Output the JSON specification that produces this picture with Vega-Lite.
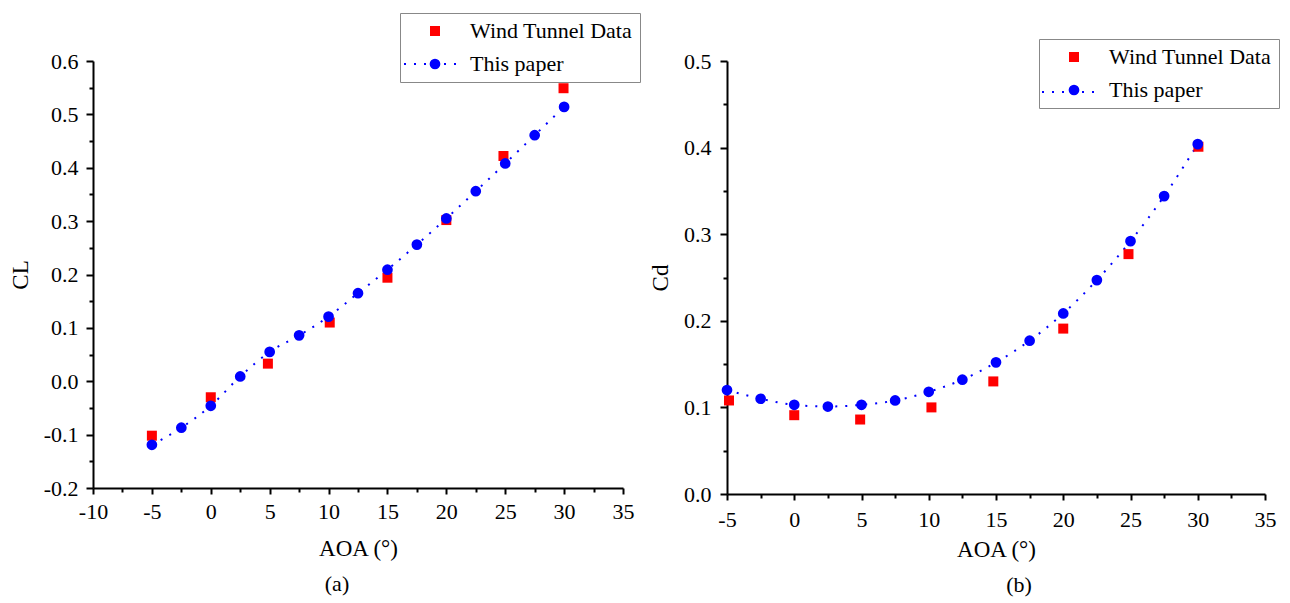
{
  "$schema": "https://vega.github.io/schema/vega-lite/v6.json",
  "padding": {"left": 9, "top": 12, "right": 5, "bottom": 5},
  "config": {
    "font": "Liberation Serif",
    "view": {"stroke": null},
    "axis": {"grid": false, "domainColor": "#000", "domainWidth": 2, "tickColor": "#000", "tickWidth": 2, "labelColor": "#000", "labelFont": "Liberation Serif", "labelFontSize": 22, "titleFont": "Liberation Serif", "titleFontSize": 23, "titleFontWeight": "normal", "titleColor": "#000", "labelFlush": false, "labelOverlap": false},
    "legend": {"labelFont": "Liberation Serif", "labelFontSize": 22, "labelColor": "#000", "labelLimit": 400, "strokeColor": "#888", "fillColor": "#fff", "padding": 7, "rowPadding": 11, "symbolOffset": 17, "labelOffset": 24, "symbolSize": 100, "symbolStrokeWidth": 0},
    "title": {"font": "Liberation Serif", "fontSize": 22, "fontWeight": "normal", "color": "#000"}
  },
  "datasets": {
    "cl": [
      {"aoa": -5, "value": -0.102, "series": "Wind Tunnel Data"},
      {"aoa": 0, "value": -0.030, "series": "Wind Tunnel Data"},
      {"aoa": 4.85, "value": 0.033, "series": "Wind Tunnel Data"},
      {"aoa": 10.1, "value": 0.110, "series": "Wind Tunnel Data"},
      {"aoa": 15, "value": 0.194, "series": "Wind Tunnel Data"},
      {"aoa": 20, "value": 0.302, "series": "Wind Tunnel Data"},
      {"aoa": 24.85, "value": 0.422, "series": "Wind Tunnel Data"},
      {"aoa": 29.95, "value": 0.549, "series": "Wind Tunnel Data"},
      {"aoa": -5, "value": -0.119, "series": "This paper"},
      {"aoa": -2.5, "value": -0.087, "series": "This paper"},
      {"aoa": 0, "value": -0.046, "series": "This paper"},
      {"aoa": 2.5, "value": 0.009, "series": "This paper"},
      {"aoa": 5, "value": 0.055, "series": "This paper"},
      {"aoa": 7.5, "value": 0.086, "series": "This paper"},
      {"aoa": 10, "value": 0.121, "series": "This paper"},
      {"aoa": 12.5, "value": 0.165, "series": "This paper"},
      {"aoa": 15, "value": 0.209, "series": "This paper"},
      {"aoa": 17.5, "value": 0.256, "series": "This paper"},
      {"aoa": 20, "value": 0.305, "series": "This paper"},
      {"aoa": 22.5, "value": 0.356, "series": "This paper"},
      {"aoa": 25, "value": 0.408, "series": "This paper"},
      {"aoa": 27.5, "value": 0.461, "series": "This paper"},
      {"aoa": 30, "value": 0.514, "series": "This paper"}
    ],
    "cd": [
      {"aoa": -4.85, "value": 0.108, "series": "Wind Tunnel Data"},
      {"aoa": 0, "value": 0.091, "series": "Wind Tunnel Data"},
      {"aoa": 4.9, "value": 0.086, "series": "Wind Tunnel Data"},
      {"aoa": 10.2, "value": 0.100, "series": "Wind Tunnel Data"},
      {"aoa": 14.8, "value": 0.130, "series": "Wind Tunnel Data"},
      {"aoa": 20, "value": 0.191, "series": "Wind Tunnel Data"},
      {"aoa": 24.85, "value": 0.277, "series": "Wind Tunnel Data"},
      {"aoa": 30.05, "value": 0.401, "series": "Wind Tunnel Data"},
      {"aoa": -5, "value": 0.120, "series": "This paper"},
      {"aoa": -2.5, "value": 0.110, "series": "This paper"},
      {"aoa": 0, "value": 0.103, "series": "This paper"},
      {"aoa": 2.5, "value": 0.101, "series": "This paper"},
      {"aoa": 5, "value": 0.103, "series": "This paper"},
      {"aoa": 7.5, "value": 0.108, "series": "This paper"},
      {"aoa": 10, "value": 0.118, "series": "This paper"},
      {"aoa": 12.5, "value": 0.132, "series": "This paper"},
      {"aoa": 15, "value": 0.152, "series": "This paper"},
      {"aoa": 17.5, "value": 0.177, "series": "This paper"},
      {"aoa": 20, "value": 0.2085, "series": "This paper"},
      {"aoa": 22.5, "value": 0.247, "series": "This paper"},
      {"aoa": 25, "value": 0.292, "series": "This paper"},
      {"aoa": 27.5, "value": 0.344, "series": "This paper"},
      {"aoa": 30, "value": 0.404, "series": "This paper"}
    ]
  },
  "spacing": 104,
  "bounds": "flush",
  "resolve": {"scale": {"color": "independent", "shape": "independent", "size": "independent", "strokeDash": "independent"}, "legend": {"color": "independent", "shape": "independent", "size": "independent", "strokeDash": "independent"}},
  "hconcat": [
    {
      "width": 530,
      "height": 427,
      "title": {"text": "(a)", "orient": "bottom", "anchor": "middle", "offset": 14, "dx": -21},
      "data": {"name": "cl"},
      "layer": [
        {
          "transform": [{"filter": "datum.series === 'This paper'"}],
          "mark": {"type": "line", "color": "#0000ff", "strokeWidth": 2, "interpolate": "monotone"},
          "encoding": {
            "x": {"field": "aoa", "type": "quantitative", "scale": {"domain": [-10, 35], "nice": false, "zero": false},
              "axis": {"orient": "bottom", "values": [-7.5, -2.5, 2.5, 7.5, 12.5, 17.5, 22.5, 27.5, 32.5], "labels": false, "domain": false, "tickSize": 4, "title": null}},
            "y": {"field": "value", "type": "quantitative", "scale": {"domain": [-0.2, 0.6], "nice": false, "zero": false},
              "axis": {"orient": "left", "values": [-0.15, -0.05, 0.05, 0.15, 0.25, 0.35, 0.45, 0.55], "labels": false, "domain": false, "tickSize": 4, "title": null}},
            "strokeDash": {"field": "series", "type": "nominal", "scale": {"domain": ["This paper"], "range": [[2, 8]]},
              "legend": {"title": null, "orient": "none", "legendX": 310, "legendY": -24, "zindex": 5, "padding": 0, "symbolOffset": 0, "symbolType": "stroke", "symbolSize": 2704, "symbolStrokeColor": "#0000ff", "symbolStrokeWidth": 2, "symbolDash": [2, 10.7], "labelExpr": "''", "strokeColor": "transparent", "fillColor": "transparent"}}
          }
        },
        {
          "mark": {"type": "point", "filled": true, "opacity": 1},
          "encoding": {
            "x": {"field": "aoa", "type": "quantitative", "scale": {"domain": [-10, 35], "nice": false, "zero": false},
              "axis": {"orient": "bottom", "values": [-10, -5, 0, 5, 10, 15, 20, 25, 30, 35], "tickSize": 6, "labelPadding": 7, "titlePadding": 15, "title": "AOA (°)",
                "labelExpr": "datum.value < 0 ? '-' + format(-datum.value, 'd') : format(datum.value, 'd')"}},
            "y": {"field": "value", "type": "quantitative", "scale": {"domain": [-0.2, 0.6], "nice": false, "zero": false},
              "axis": {"orient": "left", "values": [-0.2, -0.1, 0, 0.1, 0.2, 0.3, 0.4, 0.5, 0.6], "tickSize": 7, "labelPadding": 8, "titlePadding": 11, "title": "CL",
                "labelExpr": "datum.value < 0 ? '-' + format(-datum.value, '.1f') : format(datum.value, '.1f')"}},
            "color": {"field": "series", "type": "nominal", "scale": {"domain": ["Wind Tunnel Data", "This paper"], "range": ["#ff0000", "#0000ff"]},
              "legend": {"title": null, "orient": "none", "legendX": 307, "legendY": -48, "zindex": 0}},
            "shape": {"field": "series", "type": "nominal", "scale": {"domain": ["Wind Tunnel Data", "This paper"], "range": ["square", "circle"]}},
            "size": {"field": "series", "type": "nominal", "scale": {"domain": ["Wind Tunnel Data", "This paper"], "range": [100, 115]}, "legend": null}
          }
        }
      ],
      "resolve": {"axis": {"x": "independent", "y": "independent"}}
    },
    {
      "width": 538,
      "height": 433,
      "title": {"text": "(b)", "orient": "bottom", "anchor": "middle", "offset": 14, "dx": 23},
      "data": {"name": "cd"},
      "layer": [
        {
          "transform": [{"filter": "datum.series === 'This paper'"}],
          "mark": {"type": "line", "color": "#0000ff", "strokeWidth": 2, "interpolate": "monotone"},
          "encoding": {
            "x": {"field": "aoa", "type": "quantitative", "scale": {"domain": [-5, 35], "nice": false, "zero": false},
              "axis": {"orient": "bottom", "values": [-2.5, 2.5, 7.5, 12.5, 17.5, 22.5, 27.5, 32.5], "labels": false, "domain": false, "tickSize": 4, "title": null}},
            "y": {"field": "value", "type": "quantitative", "scale": {"domain": [0, 0.5], "nice": false, "zero": false},
              "axis": {"orient": "left", "values": [0.05, 0.15, 0.25, 0.35, 0.45], "labels": false, "domain": false, "tickSize": 4, "title": null}},
            "strokeDash": {"field": "series", "type": "nominal", "scale": {"domain": ["This paper"], "range": [[2, 8]]},
              "legend": {"title": null, "orient": "none", "legendX": 314, "legendY": 4, "zindex": 5, "padding": 0, "symbolOffset": 0, "symbolType": "stroke", "symbolSize": 2704, "symbolStrokeColor": "#0000ff", "symbolStrokeWidth": 2, "symbolDash": [2, 10.7], "labelExpr": "''", "strokeColor": "transparent", "fillColor": "transparent"}}
          }
        },
        {
          "mark": {"type": "point", "filled": true, "opacity": 1},
          "encoding": {
            "x": {"field": "aoa", "type": "quantitative", "scale": {"domain": [-5, 35], "nice": false, "zero": false},
              "axis": {"orient": "bottom", "values": [-5, 0, 5, 10, 15, 20, 25, 30, 35], "tickSize": 6, "labelPadding": 9, "titlePadding": 8, "title": "AOA (°)",
                "labelExpr": "datum.value < 0 ? '-' + format(-datum.value, 'd') : format(datum.value, 'd')"}},
            "y": {"field": "value", "type": "quantitative", "scale": {"domain": [0, 0.5], "nice": false, "zero": false},
              "axis": {"orient": "left", "values": [0, 0.1, 0.2, 0.3, 0.4, 0.5], "tickSize": 7, "labelPadding": 9, "titlePadding": 11, "title": "Cd",
                "labelExpr": "format(datum.value, '.1f')"}},
            "color": {"field": "series", "type": "nominal", "scale": {"domain": ["Wind Tunnel Data", "This paper"], "range": ["#ff0000", "#0000ff"]},
              "legend": {"title": null, "orient": "none", "legendX": 312, "legendY": -22, "zindex": 0}},
            "shape": {"field": "series", "type": "nominal", "scale": {"domain": ["Wind Tunnel Data", "This paper"], "range": ["square", "circle"]}},
            "size": {"field": "series", "type": "nominal", "scale": {"domain": ["Wind Tunnel Data", "This paper"], "range": [100, 115]}, "legend": null}
          }
        }
      ],
      "resolve": {"axis": {"x": "independent", "y": "independent"}}
    }
  ]
}
